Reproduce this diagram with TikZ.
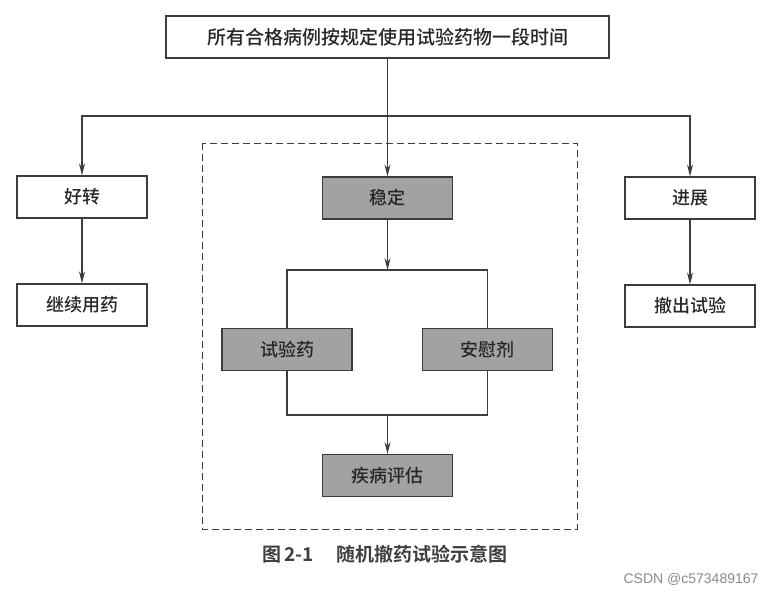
\documentclass[tikz,border=0pt]{standalone}
\usepackage{fontspec}
\setmainfont{Liberation Sans}
\newfontfamily\cjk{Noto Sans CJK SC Medium}
\newfontfamily\cjkb{Noto Sans CJK SC Bold}
\usetikzlibrary{arrows.meta}
\definecolor{lc}{HTML}{3C3C3C}
\definecolor{boxgray}{HTML}{A2A2A2}
\definecolor{wm}{HTML}{8A8A8A}
\tikzset{
  plainbox/.style={draw=lc, line width=1.1pt, fill=white, minimum width=130pt, minimum height=42pt, inner sep=0pt, font=\cjk\fontsize{18}{18}\selectfont, text=black!85},
  graybox/.style={plainbox, fill=boxgray},
  conn/.style={draw=lc, line width=1.1pt},
  arr/.style={conn, -{Stealth[length=12pt,width=6pt]}},
}
\begin{document}
\begin{tikzpicture}[x=1pt,y=-1pt]
\useasboundingbox (0,0) rectangle (776,594);
\fill[white] (0,0) rectangle (776,594);
% dashed frame
\draw[lc, line width=1pt, dash pattern=on 7pt off 4pt] (202,143) rectangle (577,529);
% nodes
\node[plainbox, minimum width=443pt, minimum height=42pt, font=\cjk\fontsize{19}{19}\selectfont] (top) at (387.5,37) {所有合格病例按规定使用试验药物一段时间};
\node[plainbox] (good) at (82,197) {好转};
\node[plainbox] (cont) at (82,305) {继续用药};
\node[plainbox] (prog) at (690,198) {进展};
\node[plainbox] (quit) at (690,306) {撤出试验};
\node[graybox] (stable) at (387.5,198) {稳定};
\node[graybox] (drug) at (287,349.5) {试验药};
\node[graybox] (plac) at (487.5,349.5) {安慰剂};
\node[graybox] (eval) at (387.5,475.5) {疾病评估};
% junctions
\coordinate (j) at (387.5,116);
\coordinate (b1) at (387.5,270);
\coordinate (b2) at (387.5,415);
% connectors
\draw[conn] (top.south) -- (j);
\draw[arr] (j) -- (stable.north);
\draw[arr] (j) -| (good.north);
\draw[arr] (j) -| (prog.north);
\draw[arr] (good.south) -- (cont.north);
\draw[arr] (prog.south) -- (quit.north);
\draw[arr] (stable.south) -- (b1);
\draw[conn] (drug.north) |- (b1) -| (plac.north);
\draw[conn] (drug.south) |- (b2) -| (plac.south);
\draw[arr] (b2) -- (eval.north);
% caption
\node[font=\cjkb\fontsize{19}{19}\selectfont, text=black!75] (cap) at (385,554) {图\,2-1\hspace{1.2em}随机撤药试验示意图};
\node[font=\fontsize{14}{14}\selectfont, text=wm, anchor=east] (mark) at (762,579) {CSDN @c573489167};
\end{tikzpicture}
\end{document}
